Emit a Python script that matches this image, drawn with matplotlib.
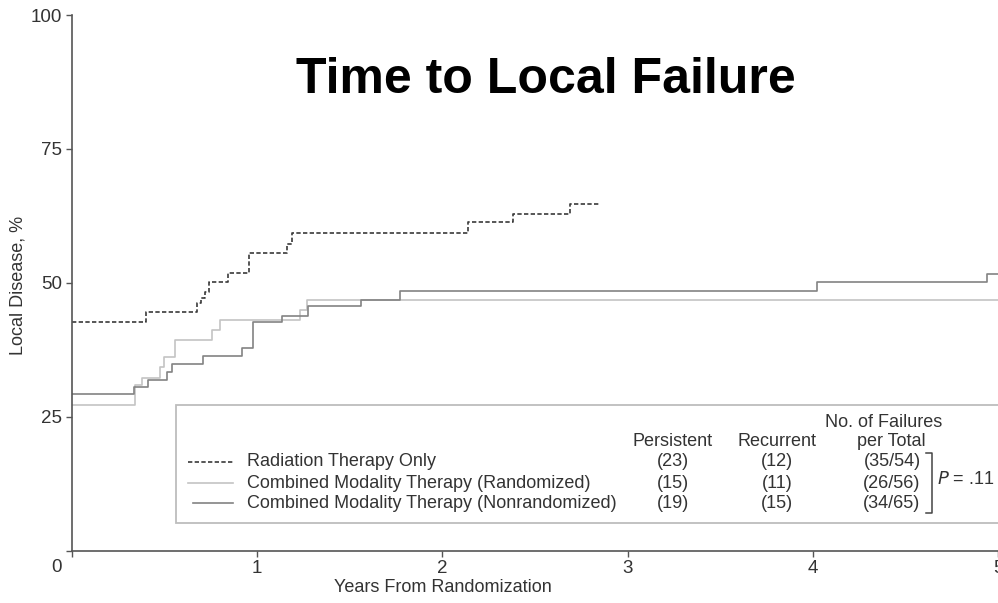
import matplotlib
matplotlib.use('Agg')
import matplotlib.pyplot as plt
from matplotlib.lines import Line2D
from matplotlib.patches import Rectangle

plt.rcParams['font.family'] = ['Liberation Sans', 'DejaVu Sans']

# Kaplan-Meier style step data (years, % local disease)
rt_years = [0, 0.40, 0.673, 0.696, 0.718, 0.74, 0.84, 0.956, 1.16, 1.19, 2.14, 2.38, 2.69, 2.85]
rt_pct = [42.6, 44.6, 46.2, 47.2, 48.3, 50.2, 51.9, 55.5, 57.3, 59.3, 61.3, 62.9, 64.8, 64.8]

rand_years = [0, 0.34, 0.376, 0.475, 0.498, 0.556, 0.758, 0.80, 1.23, 1.267, 5.0]
rand_pct = [27.2, 30.9, 32.2, 34.35, 36.2, 39.3, 41.2, 43.1, 44.9, 46.8, 46.8]

nonrand_years = [0, 0.336, 0.412, 0.511, 0.538, 0.705, 0.916, 0.979, 1.132, 1.276,
                 1.56, 1.77, 4.02, 4.94, 5.0]
nonrand_pct = [29.2, 30.6, 31.9, 33.3, 34.85, 36.4, 37.9, 42.6, 43.9, 45.7,
               46.8, 48.5, 50.2, 51.6, 51.6]

groups = ['Radiation Therapy Only',
          'Combined Modality Therapy (Randomized)',
          'Combined Modality Therapy (Nonrandomized)']
persistent = ['(23)', '(15)', '(19)']
recurrent = ['(12)', '(11)', '(15)']
failures = ['(35/54)', '(26/56)', '(34/65)']

W, H = 998, 603
fig = plt.figure(figsize=(W / 100, H / 100), dpi=100)


def fx(px):
    return px / W


def fy(py):
    return 1 - py / H


ax = fig.add_axes([fx(72), fy(550.7), 926 / W, 535.7 / H])

styles = [dict(color='#3a3a3a', lw=1.2, linestyle=(0, (2.6, 1.4))),
          dict(color='#c4c4c4', lw=1.2, linestyle='-'),
          dict(color='#838383', lw=1.2, linestyle='-')]

series = [(rt_years, rt_pct), (rand_years, rand_pct), (nonrand_years, nonrand_pct)]
for (xs, ys), st in zip(series, styles):
    ax.step(xs, ys, where='post', **st)

ax.set_xlim(0, 5)
ax.set_ylim(0, 100)
ax.set_xticks([0, 1, 2, 3, 4, 5])
ax.set_xticklabels(['', '1', '2', '3', '4', '5'])
ax.set_yticks([0, 25, 50, 75, 100])
ax.set_yticklabels(['', '25', '50', '75', '100'])
for s in ['top', 'right']:
    ax.spines[s].set_visible(False)
for s in ['left', 'bottom']:
    ax.spines[s].set_color('#555555')
    ax.spines[s].set_linewidth(1.2)
ax.tick_params(direction='out', length=4, width=1.0, color='#555555',
               labelsize=13.5, labelcolor='#333333', pad=3)

fig.text(fx(57), fy(567), '0', fontsize=13.5, color='#333333', ha='center', va='center')
fig.text(fx(18), fy(285), 'Local Disease, %', fontsize=13, color='#333333',
         rotation=90, ha='center', va='center')
fig.text(fx(443), fy(588), 'Years From Randomization', fontsize=13, color='#333333',
         ha='center', va='center')
fig.text(fx(546), fy(80), 'Time to Local Failure', fontsize=36, fontweight='bold',
         ha='center', va='center')

# legend / table box (runs off the right edge like the source)
fig.add_artist(Rectangle((fx(175.7), fy(523.3)), fx(1010) - fx(175.7), (523.3 - 405) / H,
                         transform=fig.transFigure, facecolor='white',
                         edgecolor='#bdbdbd', lw=1.3, clip_on=False))

fs = 13
tc = '#333333'
row_y = [462, 483, 503]
line_x = [(188, 233), (188, 233), (193, 233)]
for i, st in enumerate(styles):
    x0, x1 = line_x[i]
    fig.add_artist(Line2D([fx(x0), fx(x1)], [fy(row_y[i]), fy(row_y[i])],
                          transform=fig.transFigure, **st))
    fig.text(fx(247), fy(row_y[i]), groups[i], fontsize=fs, color=tc, ha='left', va='center')
    fig.text(fx(672.5), fy(row_y[i]), persistent[i], fontsize=fs, color=tc, ha='center', va='center')
    fig.text(fx(777), fy(row_y[i]), recurrent[i], fontsize=fs, color=tc, ha='center', va='center')
    fig.text(fx(892), fy(row_y[i]), failures[i], fontsize=fs, color=tc, ha='center', va='center')

fig.text(fx(672.5), fy(441.7), 'Persistent', fontsize=fs, color=tc, ha='center', va='center')
fig.text(fx(777), fy(441.7), 'Recurrent', fontsize=fs, color=tc, ha='center', va='center')
fig.text(fx(884), fy(422.5), 'No. of Failures', fontsize=fs, color=tc, ha='center', va='center')
fig.text(fx(891), fy(441.7), 'per Total', fontsize=fs, color=tc, ha='center', va='center')

# bracket and p-value
fig.add_artist(Line2D([fx(925.5), fx(931.7), fx(931.7), fx(925.5)],
                      [fy(452.7), fy(452.7), fy(512.7), fy(512.7)],
                      transform=fig.transFigure, color='#444444', lw=1.1))
fig.text(fx(937), fy(479.5), '$P$ = .11', fontsize=fs, color=tc, ha='left', va='center')

plt.savefig('out.png', dpi=100)
plt.close()
